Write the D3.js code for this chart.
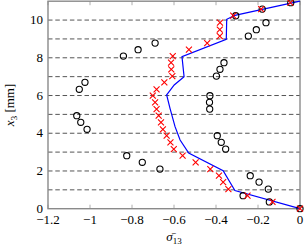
<!DOCTYPE html>
<html>
<head>
<meta charset="utf-8">
<script src="https://cdn.jsdelivr.net/npm/d3@7"></script>
<style>
html,body{margin:0;padding:0;background:#fff;}
</style>
</head>
<body>
<svg id="chart" width="308" height="248" font-family="'Liberation Serif', 'DejaVu Serif', serif"></svg>
<script>
// heights of the measurement levels [mm]
const levelY = [0,0.36,0.69,1.04,1.41,1.75,2.10,2.46,2.81,3.16,3.52,3.87,4.21,4.58,4.93,5.28,5.64,5.99,6.33,6.70,7.03,7.39,7.74,8.09,8.43,8.78,9.15,9.49,9.86,10.23,10.58,10.92];
// open circles
const circleV = [0,-0.146,-0.271,-0.151,-0.195,-0.237,-0.667,-0.751,-0.825,-0.354,-0.375,-0.394,-1.014,-1.044,-1.063,-0.430,-0.431,-0.429,-1.051,-1.024,-0.398,-0.381,-0.362,-0.841,-0.771,-0.690,-0.246,-0.208,-0.162,-0.306,-0.180,-0.044];
// red crosses
const crossV = [0,-0.131,-0.250,-0.341,-0.366,-0.386,-0.427,-0.497,-0.559,-0.601,-0.617,-0.635,-0.653,-0.662,-0.673,-0.683,-0.690,-0.701,-0.683,-0.646,-0.608,-0.613,-0.614,-0.606,-0.529,-0.442,-0.382,-0.382,-0.381,-0.318,-0.185,-0.046];
// blue line
const lineV = [0,-0.310,-0.366,-0.530,-0.571,-0.595,-0.619,-0.635,-0.599,-0.552,-0.562,-0.351,-0.349,-0.310,0];
const lineY = [0,0.96,2.02,2.95,3.64,4.35,5.32,6.03,6.56,7.00,8.06,8.98,10.04,10.25,11];
// ticks
const xTicks = [-1.2,-1,-0.8,-0.6,-0.4,-0.2,0];
const yTicks = [0,2,4,6,8,10];
const gridY = [1,2,3,4,5,6,7,8,9,10];

const FONT = "'Liberation Serif', 'DejaVu Serif', serif";
const L = 48, R = 300, T = 1.2, B = 208.7;
const svg = d3.select("#chart");
const x = d3.scaleLinear().domain([-1.2,0]).range([L,R]);
const y = d3.scaleLinear().domain([0,11]).range([B,T]);

svg.append("defs").append("clipPath").attr("id","clip")
  .append("rect").attr("x",L-4).attr("y",T-4).attr("width",R-L+8).attr("height",B-T+8);

// grid
svg.append("g").selectAll("line").data(gridY).join("line")
  .attr("x1",L).attr("x2",R)
  .attr("y1",d=>y(d)).attr("y2",d=>y(d))
  .attr("stroke","#555").attr("stroke-width",1)
  .attr("stroke-dasharray","4.5,2.8");

// tick marks (inward, bottom & top)
const tg = svg.append("g");
tg.selectAll("line.b").data(xTicks).join("line").attr("class","b")
  .attr("x1",d=>x(d)).attr("x2",d=>x(d)).attr("y1",B).attr("y2",B-4)
  .attr("stroke","#999").attr("stroke-width",0.8);
tg.selectAll("line.t").data(xTicks).join("line").attr("class","t")
  .attr("x1",d=>x(d)).attr("x2",d=>x(d)).attr("y1",T).attr("y2",T+4)
  .attr("stroke","#999").attr("stroke-width",0.8);

// frame
svg.append("rect").attr("x",L).attr("y",T).attr("width",R-L).attr("height",B-T)
  .attr("fill","none").attr("stroke","#8a8a8a").attr("stroke-width",1.4);

// tick labels
const fmt = d => (d<0 ? "\u2212" : "") + String(Math.abs(d));
svg.append("g").selectAll("text").data(xTicks).join("text")
  .attr("x",d=>x(d)).attr("y",B+15)
  .attr("font-family",FONT)
  .attr("text-anchor","middle").attr("font-size",13).attr("fill","#000")
  .text(fmt);
svg.append("g").selectAll("text").data(yTicks).join("text")
  .attr("x",L-5).attr("y",d=>y(d)+4.2)
  .attr("font-family",FONT)
  .attr("text-anchor","end").attr("font-size",13).attr("fill","#000")
  .text(d=>d);

const plot = svg.append("g").attr("clip-path","url(#clip)");

// blue line
const lineData = lineV.map((v,i)=>[v,lineY[i]]);
plot.append("path").datum(lineData)
  .attr("d", d3.line().x(d=>x(d[0])).y(d=>y(d[1])))
  .attr("fill","none").attr("stroke","#0000ff").attr("stroke-width",1.2);

// circles
plot.append("g").selectAll("circle").data(circleV.map((v,i)=>[v,levelY[i]])).join("circle")
  .attr("cx",d=>x(d[0])).attr("cy",d=>y(d[1])).attr("r",3.1)
  .attr("fill","none").attr("stroke","#000").attr("stroke-width",1.1);

// crosses
const s = 3;
plot.append("g").selectAll("path").data(crossV.map((v,i)=>[v,levelY[i]])).join("path")
  .attr("d",d=>{const cx=x(d[0]), cy=y(d[1]);
    return `M${cx-s},${cy-s}L${cx+s},${cy+s}M${cx-s},${cy+s}L${cx+s},${cy-s}`;})
  .attr("stroke","#ff0000").attr("stroke-width",1.1).attr("fill","none");

// axis labels
const xl = svg.append("text").attr("x",(L+R)/2).attr("y",241)
  .attr("font-family",FONT)
  .attr("text-anchor","middle").attr("font-size",13);
xl.append("tspan").attr("font-style","italic").text("\u03C3\u0304");
xl.append("tspan").attr("font-size",9).attr("dy",3).text("13");

const yl = svg.append("text")
  .attr("transform",`translate(14,${(T+B)/2}) rotate(-90)`)
  .attr("font-family",FONT)
  .attr("text-anchor","middle").attr("font-size",13);
yl.append("tspan").attr("font-style","italic").text("x");
yl.append("tspan").attr("font-size",9).attr("dy",3).text("3");
yl.append("tspan").attr("dy",-3).text(" [mm]");
</script>
</body>
</html>
